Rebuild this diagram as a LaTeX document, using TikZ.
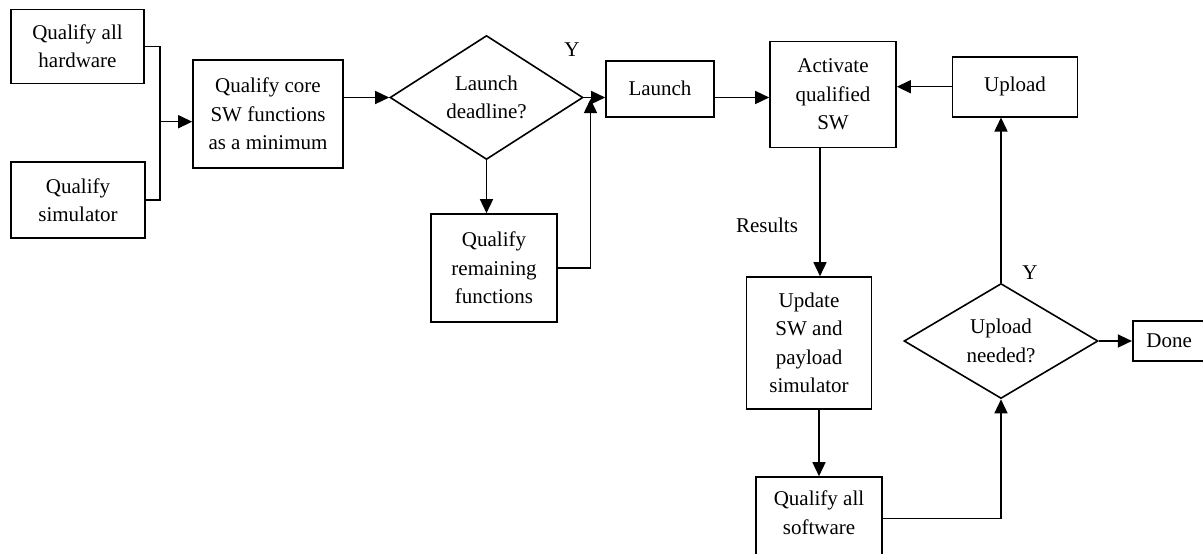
\documentclass[tikz,border=0pt]{standalone}
\usepackage{fontspec}
\setmainfont{Liberation Serif}
\usetikzlibrary{shapes.geometric,arrows.meta}
\tikzset{
  every node/.style={font=\fontsize{21}{28.5}\selectfont, align=center},
  box/.style={draw, line width=1.6pt, rectangle, inner sep=0pt},
  dia/.style={draw, line width=1.6pt, diamond, inner sep=0pt},
  conn/.style={line width=1.5pt},
  arr/.style={line width=1.5pt, -{Triangle[length=14pt,width=13pt]}},
  txt/.style={inner sep=0pt}
}
\begin{document}
\begin{tikzpicture}[x=1pt,y=-1pt]
\useasboundingbox (0,0) rectangle (1203,554);
\clip (0,0) rectangle (1203,554);
% nodes
\node[box, minimum width=133pt, minimum height=74pt] (hw) at (77.5,46.3) {Qualify all\\hardware};
\node[box, minimum width=134pt, minimum height=76pt] (sim) at (78,200) {Qualify\\simulator};
\node[box, minimum width=150pt, minimum height=108pt] (core) at (268,114) {Qualify core\\SW functions\\as a minimum};
\node[dia, minimum width=193pt, minimum height=124pt] (ld) at (486.5,97.5) {Launch\\deadline?};
\node[box, minimum width=126pt, minimum height=108pt] (rem) at (494,268) {Qualify\\remaining\\functions};
\node[box, minimum width=108pt, minimum height=56pt] (launch) at (660,88.8) {Launch};
\node[box, minimum width=126pt, minimum height=106pt] (act) at (833,94.3) {Activate\\qualified\\SW};
\node[box, minimum width=125pt, minimum height=60pt] (upl) at (1015,86.7) {Upload};
\node[box, minimum width=125pt, minimum height=132pt] (upd) at (809,343) {Update\\SW and\\payload\\simulator};
\node[box, minimum width=126pt, minimum height=128pt] (sw) at (819,541) {};
\node[txt] (swtext) at (819,512.5) {Qualify all\\software};
\node[dia, minimum width=194pt, minimum height=115pt] (ud) at (1001,341) {Upload\\needed?};
\node[box, minimum width=73pt, minimum height=40.5pt] (done) at (1169.2,341) {Done};
% labels
\node[txt] (y1) at (572,50) {Y};
\node[txt] (y2) at (1030,273) {Y};
\node[txt] (res) at (767,225) {Results};
% coordinates
\coordinate (jx) at (160,121.7);
\coordinate (jr) at (590.5,99);
\coordinate (swo) at (881.7,518.3);
% connectors
\draw[conn] (hw.east) -| (jx) |- (sim.east);
\draw[arr] (jx) -- (core.west |- jx);
\draw[arr] (core.east |- ld.west) -- (ld.west);
\draw[arr] (ld.south) -- (ld.south |- rem.north);
\draw[arr] (rem.east) -| (jr);
\draw[arr] (ld.east) -- (launch.west |- ld.east);
\draw[arr] (launch.east |- ld.east) -- (act.west |- ld.east);
\draw[arr] (upl.west) -- (act.east |- upl.west);
\draw[arr] ([xshift=-13pt]act.south) -- ([xshift=-13pt]act.south |- upd.north);
\draw[arr] (upd.south -| sw.north) -- (sw.north);
\draw[arr] (swo) -| (ud.south);
\draw[arr] (ud.north) -- (ud.north |- upl.south);
\draw[arr] (ud.east) -- (done.west);
\end{tikzpicture}
\end{document}
